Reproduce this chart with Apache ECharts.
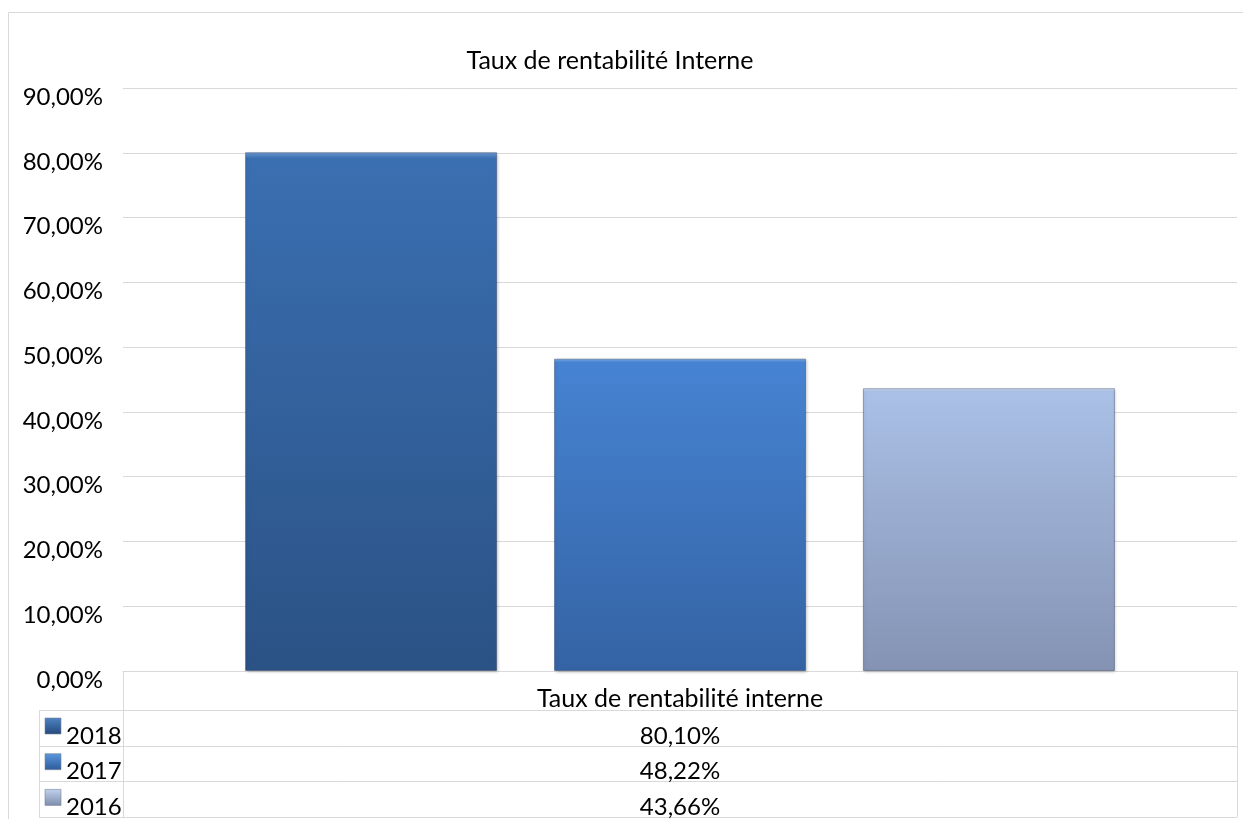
<!DOCTYPE html>
<html>
<head>
<meta charset="utf-8">
<script src="https://cdn.jsdelivr.net/npm/echarts@6/dist/echarts.min.js"></script>
<style>
  html, body { margin: 0; padding: 0; background: #ffffff; }
  #chart { width: 1243px; height: 819px; }
</style>
</head>
<body>
<div id="chart"></div>
<script>
// Chart data
const chartTitle = 'Taux de rentabilité Interne';
const categories = ['Taux de rentabilité interne'];
const seriesNames = ['2018', '2017', '2016'];
const seriesValues = [80.10, 48.22, 43.66];   // percent
const yTicks = [0, 10, 20, 30, 40, 50, 60, 70, 80, 90];

// Bevelled fills: highlight at the top edge, darker towards the base
const fills = [
  { hi: '#6f9bd2', top: '#3a6fb1', bottom: '#2b5285', key: ['#4f85c6', '#24487a'] },
  { hi: '#7fb0ea', top: '#4683d2', bottom: '#3463a4', key: ['#5c98e0', '#2c5a98'] },
  { hi: '#d3e0f5', top: '#aac0e6', bottom: '#8493b3', key: ['#c3d2ee', '#7d8cab'] }
];

const fmtPct = v => v.toFixed(2).replace('.', ',') + '%';

// Plot area / data table geometry
const W = 1243, H = 819;
const plotLeft = 123, plotRight = 1237, plotTop = 88, plotBottom = 671;
const tableLeft = 39, rowTop = 710, rowH = 35.7;
const gridColor = '#d9d9d9';
const font = 'Lato, "Noto Sans", sans-serif';

const chart = echarts.init(document.getElementById('chart'), null, { renderer: 'canvas' });

const series = seriesNames.map((name, i) => ({
  name: name,
  type: 'bar',
  barWidth: 252,
  barGap: '22.6%',
  data: [seriesValues[i]],
  itemStyle: {
    color: new echarts.graphic.LinearGradient(0, 0, 0, 1, [
      { offset: 0, color: fills[i].hi },
      { offset: 0.012, color: fills[i].top },
      { offset: 1, color: fills[i].bottom }
    ]),
    borderColor: 'rgba(20,40,80,0.35)',
    borderWidth: 1,
    shadowColor: 'rgba(0,0,0,0.25)',
    shadowBlur: 3,
    shadowOffsetX: 1,
    shadowOffsetY: 1
  },
  emphasis: { disabled: true }
}));

// Data table under the plot
const graphics = [];
// outer chart frame
graphics.push({
  type: 'rect', shape: { x: 8.5, y: 12.5, width: W + 10, height: H + 10 },
  style: { fill: 'none', stroke: gridColor, lineWidth: 1 }, silent: true
});
const tableBottom = rowTop + rowH * seriesNames.length;
// horizontal rules
for (let r = 0; r <= seriesNames.length; r++) {
  const y = Math.round(rowTop + r * rowH) + 0.5;
  graphics.push({
    type: 'line', shape: { x1: tableLeft, y1: y, x2: plotRight, y2: y },
    style: { stroke: gridColor, lineWidth: 1 }, silent: true
  });
}
// vertical rules
[[tableLeft, rowTop], [plotLeft, plotBottom], [plotRight, plotBottom]].forEach(([x, y0]) => {
  graphics.push({
    type: 'line', shape: { x1: x + 0.5, y1: y0, x2: x + 0.5, y2: Math.round(tableBottom) },
    style: { stroke: gridColor, lineWidth: 1 }, silent: true
  });
});
// header cell
const midX = (plotLeft + plotRight) / 2;
graphics.push({
  type: 'text', x: midX, y: 699,
  style: { text: categories[0], font: '25px ' + font, fill: '#000', align: 'center', verticalAlign: 'middle' },
  silent: true
});
// rows: legend key, series name, value
seriesNames.forEach((name, i) => {
  const yc = rowTop + i * rowH + 26;
  graphics.push({
    type: 'rect', shape: { x: 45, y: rowTop + i * rowH + 8, width: 16, height: 16 },
    style: {
      fill: new echarts.graphic.LinearGradient(0, 0, 0, 1, [
        { offset: 0, color: fills[i].key[0] },
        { offset: 1, color: fills[i].key[1] }
      ]),
      stroke: 'rgba(120,130,150,0.6)', lineWidth: 1
    },
    silent: true
  });
  graphics.push({
    type: 'text', x: 66, y: yc,
    style: { text: name, font: '24px ' + font, fill: '#000', align: 'left', verticalAlign: 'middle' },
    silent: true
  });
  graphics.push({
    type: 'text', x: midX, y: yc,
    style: { text: fmtPct(seriesValues[i]), font: '24px ' + font, fill: '#000', align: 'center', verticalAlign: 'middle' },
    silent: true
  });
});

chart.setOption({
  animation: false,
  backgroundColor: '#ffffff',
  title: {
    text: chartTitle,
    left: 605, top: 43,
    textAlign: 'center',
    textStyle: { fontFamily: font, fontSize: 25, fontWeight: 'normal', color: '#000' }
  },
  grid: {
    left: plotLeft, right: W - plotRight, top: plotTop, bottom: H - plotBottom,
    containLabel: false
  },
  xAxis: {
    type: 'category',
    data: categories,
    axisLine: { show: true, lineStyle: { color: gridColor } },
    axisTick: { show: false },
    axisLabel: { show: false }
  },
  yAxis: {
    type: 'value',
    min: yTicks[0],
    max: yTicks[yTicks.length - 1],
    interval: yTicks[1] - yTicks[0],
    axisLine: { show: false },
    axisTick: { show: false },
    splitLine: { show: true, lineStyle: { color: gridColor, width: 1 } },
    axisLabel: {
      formatter: fmtPct,
      fontFamily: font,
      fontSize: 24,
      color: '#000',
      margin: 20,
      verticalAlign: 'top',
      lineHeight: 18
    }
  },
  series: series,
  graphic: graphics
});
</script>
</body>
</html>
